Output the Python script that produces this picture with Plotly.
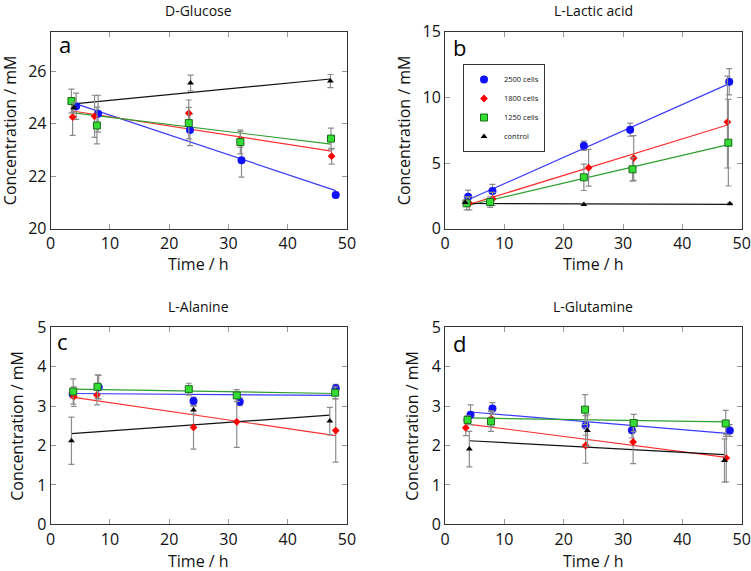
import plotly.graph_objects as go

FONT = "Open Sans"
W, H = 751, 571

series_names = ["2500 cells", "1800 cells", "1250 cells", "control"]

# ---- Panel a: D-Glucose ----
a_blue_x = [4.3, 8.0, 23.5, 32.2, 48.1]
a_blue_y = [24.66, 24.38, 23.76, 22.61, 21.28]
a_blue_e = [0.5, 0.7, 0.6, 0.65, 0.1]
a_red_x = [3.7, 7.4, 23.3, 32.0, 47.4]
a_red_y = [24.25, 24.28, 24.40, 23.40, 22.76]
a_red_e = [0.7, 0.8, 0.5, 0.3, 0.3]
a_green_x = [3.5, 7.8, 23.3, 32.0, 47.3]
a_green_y = [24.86, 23.93, 24.02, 23.30, 23.43]
a_green_e = [0.45, 0.7, 0.6, 0.45, 0.4]
a_black_x = [3.9, 23.6, 47.2]
a_black_y = [24.6, 25.55, 25.62]
a_black_e = [0.2, 0.3, 0.25]
a_fit = [[24.75, 21.45], [24.48, 22.95], [24.42, 23.22], [24.75, 25.7]]

# ---- Panel b: L-Lactic acid ----
b_blue_x = [3.9, 8.0, 23.4, 31.2, 47.9]
b_blue_y = [2.44, 2.87, 6.32, 7.54, 11.19]
b_blue_e = [0.5, 0.5, 0.35, 0.5, 1.0]
b_red_x = [4.1, 8.0, 24.2, 31.8, 47.6]
b_red_y = [1.93, 2.26, 4.64, 5.38, 8.12]
b_red_e = [0.5, 0.5, 1.4, 1.7, 3.5]
b_green_x = [3.65, 7.6, 23.4, 31.6, 47.75]
b_green_y = [1.93, 2.03, 3.91, 4.52, 6.55]
b_green_e = [0.5, 0.4, 1.0, 0.9, 3.3]
b_black_x = [3.4, 23.4, 48.0]
b_black_y = [2.0, 1.85, 1.9]
b_black_e = [0.1, 0.05, 0.05]
b_fit = [[2.2, 11.05], [1.85, 7.9], [1.75, 6.4], [1.92, 1.85]]

# ---- Panel c: L-Alanine ----
c_blue_x = [3.7, 8.1, 24.1, 31.9, 48.1]
c_blue_y = [3.31, 3.48, 3.13, 3.11, 3.45]
c_blue_e = [0.1, 0.3, 0.1, 0.1, 0.1]
c_red_x = [3.9, 7.8, 24.1, 31.4, 48.1]
c_red_y = [3.24, 3.28, 2.46, 2.60, 2.38]
c_red_e = [0.25, 0.25, 0.55, 0.65, 0.8]
c_green_x = [3.8, 7.9, 23.3, 31.4, 48.0]
c_green_y = [3.37, 3.49, 3.43, 3.27, 3.34]
c_green_e = [0.32, 0.3, 0.15, 0.15, 0.15]
c_black_x = [3.5, 24.1, 47.1]
c_black_y = [2.12, 2.90, 2.62]
c_black_e = [0.6, 0.1, 0.35]
c_fit = [[3.32, 3.27], [3.22, 2.25], [3.43, 3.32], [2.3, 2.77]]

# ---- Panel d: L-Glutamine ----
d_blue_x = [4.3, 8.0, 23.7, 31.5, 48.0]
d_blue_y = [2.78, 2.94, 2.51, 2.39, 2.38]
d_blue_e = [0.25, 0.15, 0.25, 0.2, 0.15]
d_red_x = [3.5, 7.8, 23.7, 31.7, 47.4]
d_red_y = [2.45, 2.68, 2.0, 2.09, 1.68]
d_red_e = [0.2, 0.2, 0.45, 0.55, 0.6]
d_green_x = [3.8, 7.75, 23.6, 31.8, 47.3]
d_green_y = [2.65, 2.61, 2.91, 2.57, 2.56]
d_green_e = [0.1, 0.25, 0.38, 0.22, 0.33]
d_black_x = [4.1, 24.0, 47.1]
d_black_y = [1.91, 2.38, 1.62]
d_black_e = [0.45, 0.4, 0.55]
d_fit = [[2.85, 2.3], [2.55, 1.7], [2.7, 2.6], [2.12, 1.77]]

panel_titles = ["D-Glucose", "L-Lactic acid", "L-Alanine", "L-Glutamine"]
panel_letters = ["a", "b", "c", "d"]
y_ranges = [[20, 27.5], [0, 15], [0, 5], [0, 5]]
y_dtick = [2, 5, 1, 1]

panels = [
    [(a_blue_x, a_blue_y, a_blue_e), (a_red_x, a_red_y, a_red_e),
     (a_green_x, a_green_y, a_green_e), (a_black_x, a_black_y, a_black_e), a_fit],
    [(b_blue_x, b_blue_y, b_blue_e), (b_red_x, b_red_y, b_red_e),
     (b_green_x, b_green_y, b_green_e), (b_black_x, b_black_y, b_black_e), b_fit],
    [(c_blue_x, c_blue_y, c_blue_e), (c_red_x, c_red_y, c_red_e),
     (c_green_x, c_green_y, c_green_e), (c_black_x, c_black_y, c_black_e), c_fit],
    [(d_blue_x, d_blue_y, d_blue_e), (d_red_x, d_red_y, d_red_e),
     (d_green_x, d_green_y, d_green_e), (d_black_x, d_black_y, d_black_e), d_fit],
]

line_colors = ["#3a3aff", "#ff3030", "#2e9e2e", "#111111"]
markers = [
    dict(symbol="circle", size=8, color="#1010ff", line=dict(width=0)),
    dict(symbol="diamond", size=6, color="#ff0000", line=dict(width=0)),
    dict(symbol="square", size=7, color="#33dd33", line=dict(width=1, color="#1a6b1a")),
    dict(symbol="triangle-up", size=6, color="#000000", line=dict(width=0)),
]

# pixel geometry of plot areas
x_px = [(50.7, 347.0), (445.0, 741.7), (50.7, 347.0), (445.0, 741.7)]
y_px = [(31.7, 228.7), (31.7, 228.7), (327.3, 524.3), (327.3, 524.3)]

fig = go.Figure()
layout = {}
draw_order = [0, 1, 2, 3]
for p in range(4):
    xa = "x" if p == 0 else f"x{p+1}"
    ya = "y" if p == 0 else f"y{p+1}"
    data = panels[p]
    fits = data[4]
    for s in draw_order:
        sx = data[s][0]
        fig.add_trace(go.Scatter(
            x=[sx[0], sx[-1]], y=fits[s], mode="lines",
            line=dict(color=line_colors[s], width=1.2),
            xaxis=xa, yaxis=ya, showlegend=False, hoverinfo="skip"))
    for s in draw_order:
        sx, sy, se = data[s]
        fig.add_trace(go.Scatter(
            x=sx, y=sy, mode="markers", name=series_names[s],
            marker=markers[s],
            error_y=dict(type="data", array=se, color="#8c8c8c", thickness=1.2, width=3),
            xaxis=xa, yaxis=ya, showlegend=(p == 1)))

    x0, x1 = x_px[p]
    yt, yb = y_px[p]
    axis_common = dict(showline=True, linecolor="#333333", linewidth=1, mirror="allticks",
                       ticks="inside", ticklen=5, tickcolor="#999999", tickwidth=1,
                       showgrid=False, zeroline=False, automargin=False,
                       tickfont=dict(family=FONT, size=16, color="#111111"))
    layout["xaxis" if p == 0 else f"xaxis{p+1}"] = dict(
        domain=[x0 / W, x1 / W], range=[0, 50], dtick=10, anchor=ya, **axis_common)
    layout["yaxis" if p == 0 else f"yaxis{p+1}"] = dict(
        domain=[1 - yb / H, 1 - yt / H], range=y_ranges[p], dtick=y_dtick[p], anchor=xa,
        **axis_common)

annotations = []
title_y = [10, 10, 306, 306]
xtitle_y = [264, 264, 561, 561]
ytitle_x = [10, 404, 17, 412]
letter_pos = [(57, 44), (451, 47), (55, 341), (451, 343)]
for p in range(4):
    x0, x1 = x_px[p]
    yt, yb = y_px[p]
    cx = (x0 + x1) / 2
    annotations.append(dict(text=panel_titles[p], x=cx / W, y=1 - title_y[p] / H,
                            xref="paper", yref="paper", showarrow=False,
                            font=dict(family=FONT, size=14, color="#111111"),
                            xanchor="center", yanchor="middle"))
    annotations.append(dict(text="Time / h", x=cx / W, y=1 - xtitle_y[p] / H,
                            xref="paper", yref="paper", showarrow=False,
                            font=dict(family=FONT, size=16, color="#111111"),
                            xanchor="center", yanchor="middle"))
    annotations.append(dict(text="Concentration / mM", x=ytitle_x[p] / W,
                            y=1 - ((yt + yb) / 2) / H, textangle=-90,
                            xref="paper", yref="paper", showarrow=False,
                            font=dict(family=FONT, size=16, color="#111111"),
                            xanchor="center", yanchor="middle"))
    lx, ly = letter_pos[p]
    annotations.append(dict(text=panel_letters[p], x=lx / W, y=1 - ly / H,
                            xref="paper", yref="paper", showarrow=False,
                            font=dict(family=FONT, size=22, color="#000000"),
                            xanchor="left", yanchor="middle"))

fig.update_layout(
    width=W, height=H, margin=dict(l=0, r=0, t=0, b=0),
    paper_bgcolor="white", plot_bgcolor="white",
    annotations=annotations,
    legend=dict(x=463 / W, y=1 - 64 / H, xanchor="left", yanchor="top",
                bordercolor="#333333", borderwidth=1, bgcolor="white",
                font=dict(family=FONT, size=7.5, color="#111111"),
                itemwidth=30, tracegroupgap=0),
    **layout,
)

fig.write_html("out.html", config={"displayModeBar": False},
               post_script="document.body.style.margin='0px';document.body.style.overflow='hidden';")
